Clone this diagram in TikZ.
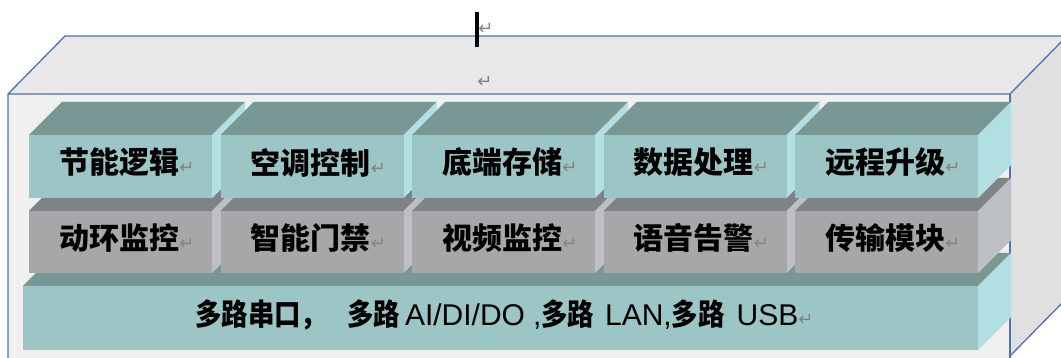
\documentclass[tikz,border=0pt]{standalone}
\usepackage{fontspec}
\setmainfont{Liberation Sans}
\newfontfamily\cjk{Noto Sans CJK SC}
\newfontfamily\cjkn{Noto Sans CJK SC}[FakeStretch=0.88]
\newfontfamily\dvs{DejaVu Sans}
\definecolor{tealF}{HTML}{9CC5C5}
\definecolor{tealT}{HTML}{789896}
\definecolor{tealS}{HTML}{B2E0E2}
\definecolor{grayF}{HTML}{A5A7A9}
\definecolor{grayT}{HTML}{7F8385}
\definecolor{grayS}{HTML}{BCC0C4}
\definecolor{boxF}{HTML}{F0F0F0}
\definecolor{boxT}{HTML}{E8E8E8}
\definecolor{boxS}{HTML}{E0E0E0}
\definecolor{edge}{HTML}{5070B0}
\definecolor{retgray}{HTML}{848484}
\newcommand\retmark{{\dvs\mdseries\fontsize{18}{18}\selectfont\color{retgray}↵}}
\newcommand\lat[1]{{\normalfont\fontsize{30}{30}\selectfont #1}}
\newcommand\cubeblock[7]{%
  \fill[#6] (#1,#2) -- ++(33,-33) -- ++(#3,0) -- ++(-33,33) -- cycle;
  \fill[#7] ({#1+#3},#2) -- ++(33,-33) -- ++(0,#4) -- ++(-33,33) -- cycle;
  \fill[#5] (#1,#2) rectangle ++(#3,#4);}
\begin{document}
\begin{tikzpicture}[x=1pt,y=-1pt,
  lab/.style={inner sep=0pt, font=\cjk\bfseries\fontsize{30}{30}\selectfont, text=black},
  edgeline/.style={draw=edge, line width=1.3pt}]
\useasboundingbox (0,0) rectangle (1061,358);
\clip (0,0) rectangle (1061,358);
% outer box
\fill[boxF] (8,94) rectangle (1010,370);
\fill[boxT] (8,94) -- (65,36) -- (1067,36) -- (1010,94) -- cycle;
\fill[boxS] (1010,94) -- (1067,36) -- (1067,298) -- (1010,356) -- cycle;
\draw[edgeline] (8,370) -- (8,94) -- (65,36) -- (1067,36) -- (1010,94) -- (8,94);
\draw[edgeline] (1010,94) -- (1010,370);
\draw[edgeline] (1010,356) -- (1067,298);
% cursor and marks
\draw[line width=4.5pt] (477,12) -- (477,47);
\node[inner sep=0pt] (ret1) at (486,29) {\retmark};
\node[inner sep=0pt] (ret2) at (485,82) {\retmark};
% row 3
\cubeblock{23}{286}{955}{64}{tealF}{tealT}{tealS}
\node[lab, anchor=west] (bus) at (195,315) {{\cjkn 多路串口，}\hspace{20pt}{\cjkn 多路}\hspace{5pt}\lat{AI/DI/DO}\hspace{8pt}\lat{,}{\cjkn 多路}\hspace{11pt}\lat{LAN,}{\cjkn 多路}\hspace{12pt}\lat{USB}\retmark};
% row 2
\foreach \lab [count=\i from 0] in {动环监控,智能门禁,视频监控,语音告警,传输模块}{
  \pgfmathsetmacro\bx{29+191.5*\i}
  \cubeblock{\bx}{211}{183}{62}{grayF}{grayT}{grayS}
  \node[lab] (m\i) at (\bx+98,238) {\lab\retmark};
}
% row 1
\foreach \lab [count=\i from 0] in {节能逻辑,空调控制,底端存储,数据处理,远程升级}{
  \pgfmathsetmacro\bx{29+191.5*\i}
  \cubeblock{\bx}{135}{183}{63}{tealF}{tealT}{tealS}
  \node[lab] (t\i) at (\bx+98,162.5) {\lab\retmark};
}
\end{tikzpicture}
\end{document}
